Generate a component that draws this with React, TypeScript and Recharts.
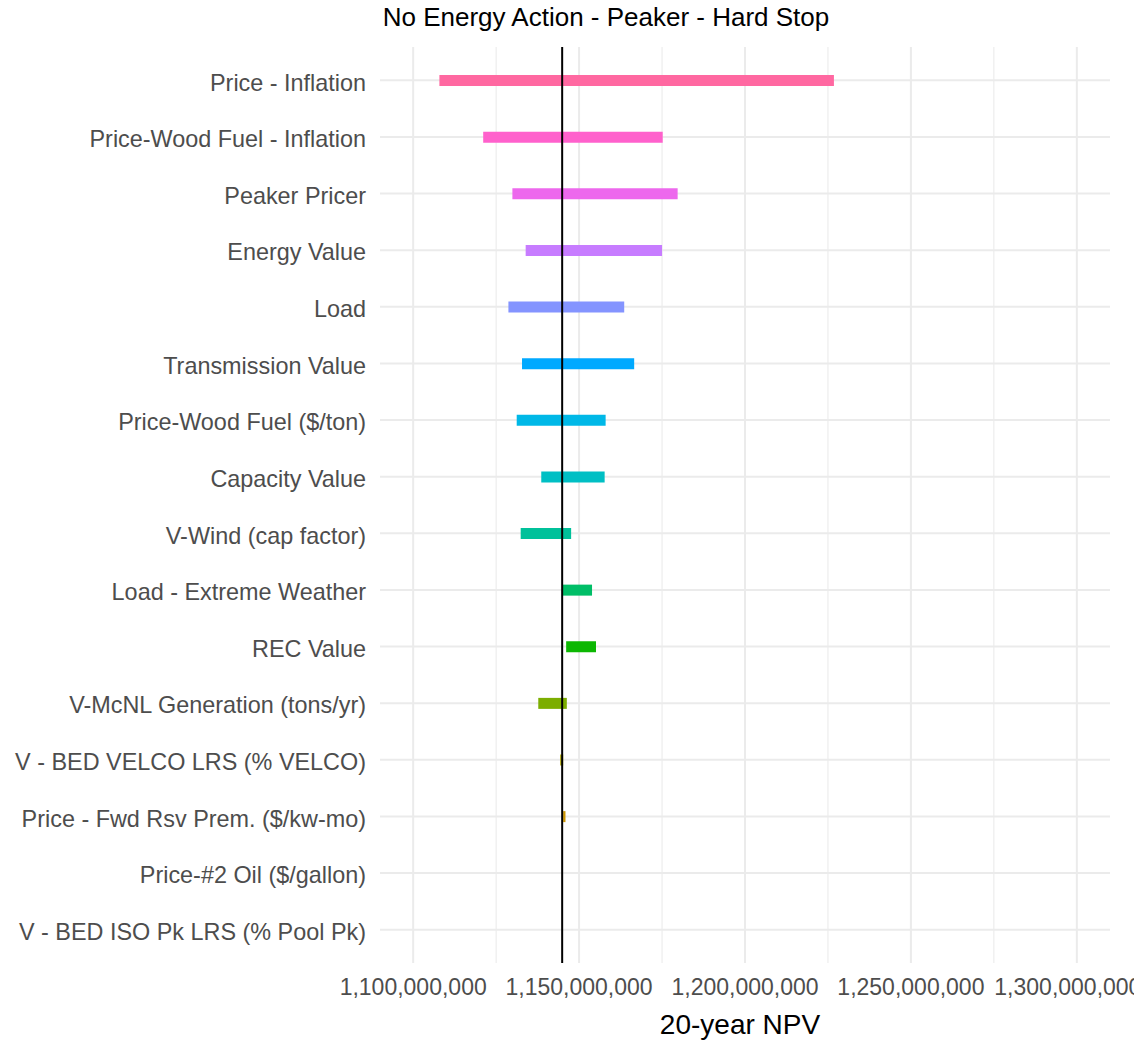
import React from 'react';
import { BarChart, Bar, XAxis, YAxis, CartesianGrid, ReferenceLine, Cell } from 'recharts';

const categories = [
  'Price - Inflation',
  'Price-Wood Fuel - Inflation',
  'Peaker Pricer',
  'Energy Value',
  'Load',
  'Transmission Value',
  'Price-Wood Fuel ($/ton)',
  'Capacity Value',
  'V-Wind (cap factor)',
  'Load - Extreme Weather',
  'REC Value',
  'V-McNL Generation (tons/yr)',
  'V - BED VELCO LRS (% VELCO)',
  'Price - Fwd Rsv Prem. ($/kw-mo)',
  'Price-#2 Oil ($/gallon)',
  'V - BED ISO Pk LRS (% Pool Pk)',
];

const lowValues = [
  1107.9e6, 1121.1e6, 1129.9e6, 1133.9e6, 1128.7e6, 1132.8e6, 1131.2e6, 1138.6e6,
  1132.4e6, 1144.9e6, 1146.1e6, 1137.7e6, 1144.3e6, 1145.2e6, 1144.9e6, 1144.9e6,
];

const highValues = [
  1226.8e6, 1175.2e6, 1179.7e6, 1175.0e6, 1163.6e6, 1166.6e6, 1158.0e6, 1157.7e6,
  1147.6e6, 1153.9e6, 1155.1e6, 1146.3e6, 1145.2e6, 1145.9e6, 1144.9e6, 1144.9e6,
];

const colors = [
  '#FF68A1', '#FF61CC', '#ED68ED', '#C77CFF', '#8494FF', '#00A9FF', '#00B8E7', '#00BFC4',
  '#00C19A', '#00BE67', '#0CB702', '#7CAE00', '#ABA300', '#CD9600', '#E68613', '#F8766D',
];

const baseValue = 1144.9e6;
const xMajorTicks = [1100e6, 1150e6, 1200e6, 1250e6, 1300e6];
const xMinorTicks = [1125e6, 1175e6, 1225e6, 1275e6];
const xDomain = [1090e6, 1310e6];

const title = 'No Energy Action - Peaker - Hard Stop';
const xTitle = '20-year NPV';

const data = categories.map((name, i) => ({
  name,
  range: [lowValues[i], highValues[i]],
}));

const fmt = (v: number) => Math.round(v).toLocaleString('en-US');

const FONT = '"Liberation Sans", Arial, sans-serif';

export default function App() {
  return (
    <div style={{ position: 'absolute', left: 0, top: 0, width: 1134, height: 1040, background: '#fff', overflow: 'hidden' }}>
      <div
        style={{
          position: 'absolute',
          left: 0,
          top: 4,
          width: 1212,
          textAlign: 'center',
          fontFamily: FONT,
          fontSize: 26,
          lineHeight: '27px',
          color: '#000',
        }}
      >
        {title}
      </div>
      <BarChart
        width={1134}
        height={1040}
        data={data}
        layout="vertical"
        margin={{ top: 47, right: 24, bottom: 0, left: 0 }}
        barCategoryGap={0}
      >
        <CartesianGrid horizontal={false} stroke="#EBEBEB" strokeWidth={1.1} verticalValues={xMinorTicks} syncWithTicks />
        <CartesianGrid stroke="#EBEBEB" strokeWidth={2} syncWithTicks />
        <XAxis
          type="number"
          domain={xDomain}
          ticks={xMajorTicks}
          allowDataOverflow
          tickFormatter={fmt}
          axisLine={false}
          tickLine={false}
          tickSize={6}
          tickMargin={10}
          height={77}
          tick={{ fill: '#4D4D4D', fontSize: 23, fontFamily: FONT }}
          label={{ value: xTitle, position: 'insideBottom', offset: 6, dx: -5, fill: '#000', fontSize: 28, fontFamily: FONT }}
        />
        <YAxis
          type="category"
          dataKey="name"
          width={380}
          axisLine={false}
          tickLine={false}
          tickSize={6}
          tickMargin={8}
          interval={0}
          padding={{ top: 5, bottom: 5 }}
          tick={{ fill: '#4D4D4D', fontSize: 23.4, fontFamily: FONT, dy: 2 }}
        />
        <Bar dataKey="range" barSize={11} isAnimationActive={false}>
          {data.map((d, i) => (
            <Cell key={d.name} fill={colors[i]} />
          ))}
        </Bar>
        <ReferenceLine x={baseValue} stroke="#000" strokeWidth={2} />
      </BarChart>
    </div>
  );
}
